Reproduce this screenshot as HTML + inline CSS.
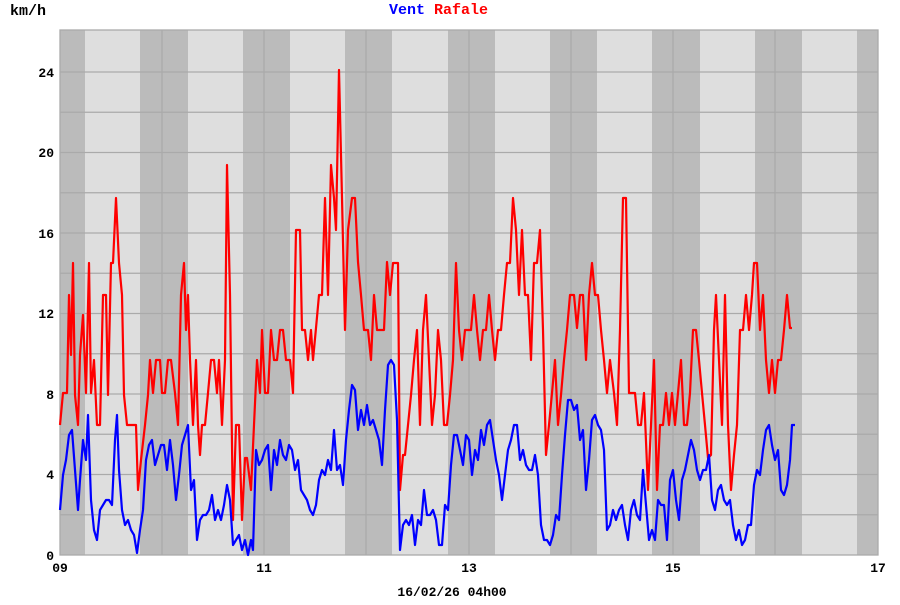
<!DOCTYPE html>
<html><head><meta charset="utf-8"><style>
body{margin:0;background:#fff;width:900px;height:600px;overflow:hidden}
text{font-family:"Liberation Mono",monospace;font-weight:bold}
</style></head><body>
<svg width="900" height="600" viewBox="0 0 900 600" xmlns="http://www.w3.org/2000/svg">
<rect x="60" y="30" width="818" height="525" fill="#dedede"/>
<g fill="#bbbbbb">
<rect x="60" y="30" width="25" height="525"/>
<rect x="140" y="30" width="48" height="525"/>
<rect x="243" y="30" width="47" height="525"/>
<rect x="345" y="30" width="47" height="525"/>
<rect x="448" y="30" width="47" height="525"/>
<rect x="550" y="30" width="47" height="525"/>
<rect x="652" y="30" width="48" height="525"/>
<rect x="755" y="30" width="47" height="525"/>
<rect x="857" y="30" width="21" height="525"/>
</g>
<g stroke="#aaaaaa" stroke-width="1.3">
<line x1="60" x2="878" y1="514.75" y2="514.75"/><line x1="60" x2="878" y1="474.5" y2="474.5"/>
<line x1="60" x2="878" y1="434.25" y2="434.25"/><line x1="60" x2="878" y1="394" y2="394"/>
<line x1="60" x2="878" y1="353.75" y2="353.75"/><line x1="60" x2="878" y1="313.5" y2="313.5"/>
<line x1="60" x2="878" y1="273.25" y2="273.25"/><line x1="60" x2="878" y1="233" y2="233"/>
<line x1="60" x2="878" y1="192.75" y2="192.75"/><line x1="60" x2="878" y1="152.5" y2="152.5"/>
<line x1="60" x2="878" y1="112.25" y2="112.25"/><line x1="60" x2="878" y1="72" y2="72"/>
<line x1="162" x2="162" y1="30" y2="555"/><line x1="264" x2="264" y1="30" y2="555"/>
<line x1="366" x2="366" y1="30" y2="555"/><line x1="469" x2="469" y1="30" y2="555"/>
<line x1="571" x2="571" y1="30" y2="555"/><line x1="673" x2="673" y1="30" y2="555"/>
<line x1="775" x2="775" y1="30" y2="555"/>
</g>
<rect x="60" y="30" width="818" height="525" fill="none" stroke="#aaaaaa" stroke-width="1.3"/>
<polyline fill="none" stroke="#ff0000" stroke-width="2.2" stroke-linejoin="round" points="60,425 63,393 67,393 69,295 71,355 73,263 75,395 78,425 80,355 83,315 86,393 89,263 91,393 94,360 97,425 100,425 103,295 106,295 108,395 111,263 113,263 116,198 119,263 122,295 124,395 127,425 133,425 136,425 138,490 141,460 145,425 148,395 150,360 153,393 156,360 160,360 162,393 165,393 168,360 171,360 175,393 178,425 181,295 184,263 186,330 188,295 190,360 193,425 196,360 198,425 200,455 202,425 205,425 208,393 211,360 214,360 217,393 219,360 222,425 225,360 227,165 230,295 233,520 236,425 239,425 242,520 245,458 247,458 251,490 254,425 257,360 260,393 262,330 265,393 268,393 271,330 274,360 277,360 280,330 283,330 286,360 290,360 293,393 296,230 300,230 302,330 305,330 308,360 311,330 313,360 316,328 319,295 322,295 325,198 328,295 331,165 334,198 336,230 339,70 342,198 345,330 348,230 352,198 355,198 358,262 361,295 364,330 368,330 371,360 374,295 377,330 381,330 384,330 387,262 390,295 393,263 398,263 400,490 403,455 405,455 408,425 411,395 414,360 417,330 420,425 423,330 426,295 429,360 432,425 435,395 438,330 441,360 444,425 447,425 450,395 453,360 456,263 459,330 462,360 465,330 468,330 471,330 474,295 477,330 480,360 483,330 486,330 489,295 492,330 495,360 498,330 501,330 504,295 507,263 510,263 513,198 516,230 519,295 522,230 525,295 528,295 531,360 534,263 537,263 540,230 543,330 546,455 549,425 552,393 555,360 558,425 561,395 564,360 567,330 570,295 574,295 577,328 580,295 583,295 586,360 589,295 592,263 595,295 598,295 601,330 604,360 607,393 610,360 614,393 617,425 620,330 623,198 626,198 629,393 632,393 635,393 638,425 641,425 644,393 648,490 651,425 654,360 657,490 660,425 663,425 666,393 669,425 672,393 675,425 678,393 681,360 684,425 687,425 690,393 693,330 696,330 699,360 702,393 705,425 708,458 711,455 714,330 716,295 719,360 722,425 725,295 728,425 731,490 734,455 737,425 740,330 743,330 746,295 749,330 752,295 754,263 757,263 760,330 763,295 766,360 769,393 772,360 775,393 778,360 781,360 784,330 787,295 790,328 792,328"/>
<polyline fill="none" stroke="#0000ff" stroke-width="2.2" stroke-linejoin="round" points="60,510 63,475 66,460 69,435 72,430 75,470 78,510 80,480 83,440 86,460 88,415 91,500 94,530 97,540 100,510 103,505 106,500 109,500 112,505 115,440 117,415 119,470 122,510 125,525 128,520 131,530 134,535 137,553 140,530 143,510 146,460 149,445 152,440 155,465 158,455 161,445 164,445 167,470 170,440 173,465 176,500 179,475 182,445 185,435 188,425 191,490 194,480 197,540 200,520 203,515 206,515 209,510 212,495 215,520 218,510 221,520 224,505 227,485 230,500 233,545 236,540 239,535 242,550 245,540 248,555 251,540 253,550 256,450 259,465 262,460 265,450 268,445 271,490 274,450 277,465 280,440 283,455 286,460 289,445 292,450 295,470 298,460 301,490 304,495 307,500 310,510 313,515 316,505 319,480 322,470 325,475 328,460 331,470 334,430 337,470 340,465 343,485 346,440 349,410 352,385 355,390 358,430 361,410 364,425 367,405 370,425 373,420 376,430 379,440 382,465 385,410 388,365 391,360 394,365 397,420 400,550 403,525 406,520 409,525 412,515 415,545 418,520 421,525 424,490 427,515 430,515 433,510 436,520 439,545 442,545 445,505 448,510 451,465 454,435 457,435 460,450 463,465 466,435 469,440 472,475 475,450 478,460 481,430 484,445 487,425 490,420 493,440 496,460 499,475 502,500 505,475 508,450 511,440 514,425 517,425 520,460 523,450 526,465 529,470 532,470 535,455 538,475 541,525 544,540 547,540 550,545 553,535 556,515 559,520 562,475 565,435 568,400 571,400 574,410 577,405 580,440 583,430 586,490 589,460 592,420 595,415 598,425 601,430 604,450 607,530 610,525 613,510 616,520 619,510 622,505 625,525 628,540 631,510 634,500 637,515 640,520 643,470 646,505 649,540 652,530 655,540 658,500 661,505 664,505 667,540 670,480 673,470 676,500 679,520 682,480 685,470 688,455 691,440 694,450 697,470 700,480 703,470 706,470 709,455 712,500 715,510 718,490 721,485 724,500 727,505 730,500 733,525 736,540 739,530 742,545 745,540 748,525 751,525 754,485 757,470 760,475 763,450 766,430 769,425 772,445 775,460 778,450 781,490 784,495 787,485 790,460 792,425 795,425"/>
<g font-size="13" text-anchor="end">
<text x="54" y="560">0</text><text x="54" y="479">4</text><text x="54" y="399">8</text>
<text x="54" y="318">12</text><text x="54" y="238">16</text><text x="54" y="157">20</text><text x="54" y="77">24</text>
</g>
<g font-size="13" text-anchor="middle">
<text x="60" y="572">09</text><text x="264" y="572">11</text><text x="469" y="572">13</text>
<text x="673" y="572">15</text><text x="878" y="572">17</text>
<text x="452" y="596" font-weight="normal">16/02/26 04h00</text>
</g>
<text x="10" y="15" font-size="15">km/h</text>
<text x="389" y="14" font-size="15" fill="#0000ff">Vent</text>
<text x="434" y="14" font-size="15" fill="#ff0000">Rafale</text>
</svg>
</body></html>
